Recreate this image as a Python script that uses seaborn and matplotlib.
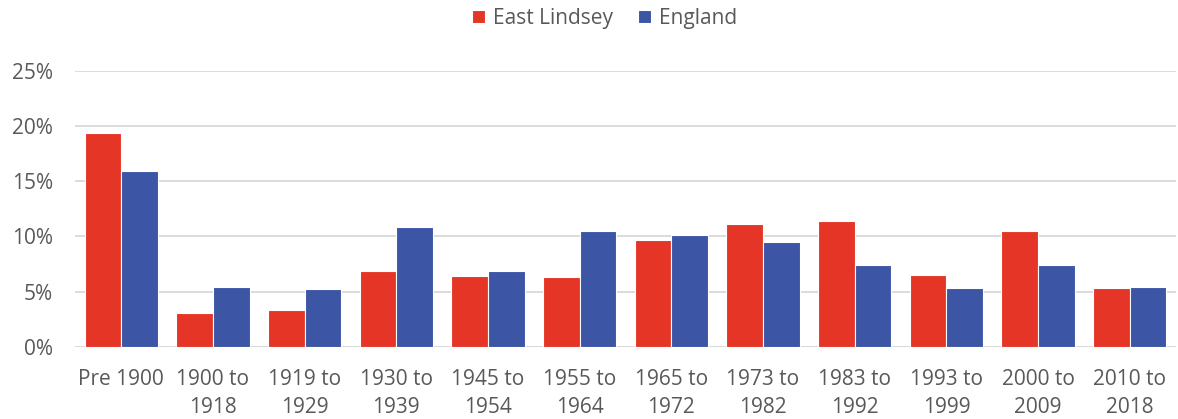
import pandas as pd
import matplotlib.pyplot as plt
import seaborn as sns
from matplotlib.ticker import PercentFormatter

sns.set_style("white")
plt.rcParams['font.family'] = ['Open Sans', 'DejaVu Sans']

# Data
periods = ['Pre 1900', '1900 to\n1918', '1919 to\n1929', '1930 to\n1939', '1945 to\n1954',
           '1955 to\n1964', '1965 to\n1972', '1973 to\n1982', '1983 to\n1992',
           '1993 to\n1999', '2000 to\n2009', '2010 to\n2018']
east_lindsey = [19.4, 3.1, 3.3, 6.9, 6.4, 6.3, 9.7, 11.1, 11.4, 6.5, 10.5, 5.3]
england = [15.9, 5.4, 5.2, 10.9, 6.9, 10.5, 10.1, 9.5, 7.4, 5.3, 7.4, 5.4]

df = pd.DataFrame({
    'period': periods * 2,
    'value': east_lindsey + england,
    'area': ['East Lindsey'] * len(periods) + ['England'] * len(periods),
})

colors = {'East Lindsey': '#E43526', 'England': '#3C55A4'}
text_color = '#595959'

fig = plt.figure(figsize=(11.78, 4.19), dpi=100)
ax = fig.add_axes([0.064, 0.172, 0.934, 0.659])

sns.barplot(data=df, x='period', y='value', hue='area', order=periods,
            palette=colors, width=0.8, edgecolor='white', linewidth=0.8,
            saturation=1, ax=ax)

ax.set_ylim(0, 25)
ax.set_xlim(-0.5, len(periods) - 0.5)
ax.set_yticks(range(0, 26, 5))
ax.yaxis.set_major_formatter(PercentFormatter(decimals=0))
ax.grid(axis='y', color='#D9D9D9', linewidth=1.3)
ax.set_axisbelow(True)
for s in ['top', 'right', 'left', 'bottom']:
    ax.spines[s].set_visible(False)
ax.axhline(0, color='#D9D9D9', linewidth=1.3, zorder=0)
ax.set_xlabel('')
ax.set_ylabel('')
ax.tick_params(axis='both', length=0, labelsize=15, colors=text_color)
ax.tick_params(axis='x', pad=16)
ax.tick_params(axis='y', pad=16)
for lbl in ax.get_xticklabels():
    lbl.set_linespacing(1.4)

handles, labels = ax.get_legend_handles_labels()
ax.legend(handles, labels, loc='center', bbox_to_anchor=(0.481, 1.19), ncol=2,
          frameon=False, fontsize=15, handlelength=0.6, handleheight=0.6,
          handletextpad=0.4, columnspacing=1.2, labelcolor=text_color)

plt.savefig('out.png', dpi=100)
